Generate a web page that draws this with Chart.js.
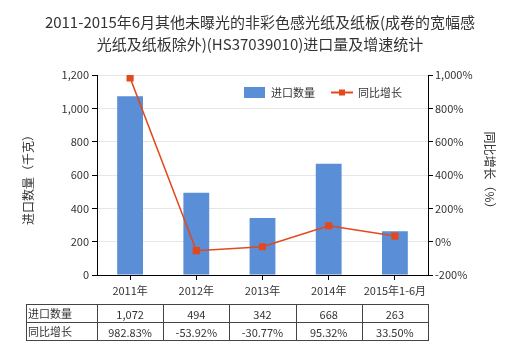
<!DOCTYPE html>
<html><head><meta charset="utf-8">
<script src="https://cdn.jsdelivr.net/npm/chart.js@4/dist/chart.umd.min.js"></script>
<style>html,body{margin:0;padding:0;background:#fff}#wrap{width:520px;height:350px;position:relative}</style>
</head><body><div id="wrap"><canvas id="c" width="520" height="350"></canvas></div>
<script>
const titleLines = ['2011-2015年6月其他未曝光的非彩色感光纸及纸板(成卷的宽幅感', '光纸及纸板除外)(HS37039010)进口量及增速统计'];
const categories = ['2011年', '2012年', '2013年', '2014年', '2015年1-6月'];
const importQty = [1072, 494, 342, 668, 263];
const growthPct = [982.83, -53.92, -30.77, 95.32, 33.50];
const qtyLabels = ['1,072', '494', '342', '668', '263'];
const growthLabels = ['982.83%', '-53.92%', '-30.77%', '95.32%', '33.50%'];
const seriesNames = ['进口数量', '同比增长'];
const leftTitle = '进口数量（千克）';
const rightTitle = '同比增长（%）';

const FONT = "'Microsoft YaHei','Noto Sans CJK SC',sans-serif";
const BAR = '#5a8ed6';
const LINE = '#e2491c';
const TXT = '#333333';

const extras = {
  id: 'extras',
  afterDraw(chart) {
    const ctx = chart.ctx, a = chart.chartArea, xs = chart.scales.x;
    ctx.save();
    // title
    ctx.fillStyle = TXT;
    ctx.font = '15px ' + FONT;
    ctx.textAlign = 'center'; ctx.textBaseline = 'middle';
    ctx.fillText(titleLines[0], 260, 22);
    ctx.fillText(titleLines[1], 260, 44);
    // axis titles
    ctx.font = '12px ' + FONT;
    ctx.save(); ctx.translate(28, 177); ctx.rotate(-Math.PI/2); ctx.fillText(leftTitle, 0, 0); ctx.restore();
    ctx.save(); ctx.translate(490, 173); ctx.rotate(Math.PI/2); ctx.fillText(rightTitle, 0, 0); ctx.restore();
    // legend
    ctx.font = '11px ' + FONT; ctx.textAlign = 'left';
    ctx.fillStyle = BAR; ctx.fillRect(244, 87, 21, 11);
    ctx.fillStyle = TXT; ctx.fillText(seriesNames[0], 271, 92.5);
    ctx.strokeStyle = LINE; ctx.lineWidth = 2;
    ctx.beginPath(); ctx.moveTo(331, 92.5); ctx.lineTo(353, 92.5); ctx.stroke();
    ctx.fillStyle = LINE; ctx.fillRect(339, 89.5, 6, 6);
    ctx.fillStyle = TXT; ctx.fillText(seriesNames[1], 358, 92.5);
    // table
    const top = 304, mid = 322, bot = 340, left = 26;
    ctx.strokeStyle = '#444'; ctx.lineWidth = 1;
    const edges = [left, a.left];
    for (let i = 0; i < categories.length; i++) {
      const c = xs.getPixelForValue(i);
      const next = i < categories.length - 1 ? (c + xs.getPixelForValue(i + 1)) / 2 : a.right;
      edges.push(next);
    }
    ctx.beginPath();
    ctx.moveTo(left, top + 0.5); ctx.lineTo(a.right, top + 0.5);
    ctx.moveTo(left, mid + 0.5); ctx.lineTo(a.right, mid + 0.5);
    ctx.moveTo(left, bot + 0.5); ctx.lineTo(a.right, bot + 0.5);
    edges.forEach(e => { const xx = Math.round(e) + 0.5; ctx.moveTo(xx, top); ctx.lineTo(xx, bot + 1); });
    ctx.stroke();
    ctx.fillStyle = TXT; ctx.font = '11px ' + FONT;
    ctx.textAlign = 'left';
    ctx.fillText(seriesNames[0], left + 2, (top + mid) / 2 + 1);
    ctx.fillText(seriesNames[1], left + 2, (mid + bot) / 2 + 1);
    ctx.textAlign = 'center';
    for (let i = 0; i < categories.length; i++) {
      const c = xs.getPixelForValue(i);
      ctx.fillText(qtyLabels[i], c, (top + mid) / 2 + 2);
      ctx.fillText(growthLabels[i], c, (mid + bot) / 2 + 2);
    }
    ctx.restore();
  }
};

new Chart(document.getElementById('c'), {
  data: {
    labels: categories,
    datasets: [
      { type: 'line', label: seriesNames[1], data: growthPct, yAxisID: 'y1', order: 0,
        borderColor: LINE, backgroundColor: LINE, borderWidth: 1.5, pointStyle: 'rect',
        pointRadius: 4, pointBackgroundColor: LINE, pointBorderColor: LINE, tension: 0 },
      { type: 'bar', label: seriesNames[0], data: importQty, yAxisID: 'y', order: 1,
        backgroundColor: BAR, barPercentage: 0.39, categoryPercentage: 1 }
    ]
  },
  options: {
    responsive: false, animation: false, devicePixelRatio: 1,
    layout: { padding: { top: 75, left: 0, right: 0, bottom: 0 } },
    plugins: { legend: { display: false }, title: { display: false }, tooltip: { enabled: false } },
    scales: {
      x: {
        grid: { display: true, drawOnChartArea: false, drawTicks: true, tickLength: 5, offset: false, tickColor: '#000' },
        border: { color: '#000', width: 1 },
        ticks: { color: TXT, font: { family: FONT, size: 11 }, padding: 4, maxRotation: 0, minRotation: 0, autoSkip: false },
        afterFit(s) { s.height = 75; }
      },
      y: {
        position: 'left', min: 0, max: 1200,
        ticks: { stepSize: 200, color: TXT, font: { family: FONT, size: 11 }, padding: 3,
          callback: v => v.toLocaleString('en-US') },
        grid: { color: '#e6e6e6', tickColor: '#000', tickLength: 5 },
        border: { color: '#000', width: 1 },
        afterFit(s) { s.width = 97; }
      },
      y1: {
        position: 'right', min: -200, max: 1000,
        ticks: { stepSize: 200, color: TXT, font: { family: FONT, size: 11 }, padding: 2,
          callback: v => v.toLocaleString('en-US') + '%' },
        grid: { drawOnChartArea: false, tickColor: '#000', tickLength: 5 },
        border: { color: '#000', width: 1 },
        afterFit(s) { s.width = 92; }
      }
    }
  },
  plugins: [extras]
});
</script></body></html>
